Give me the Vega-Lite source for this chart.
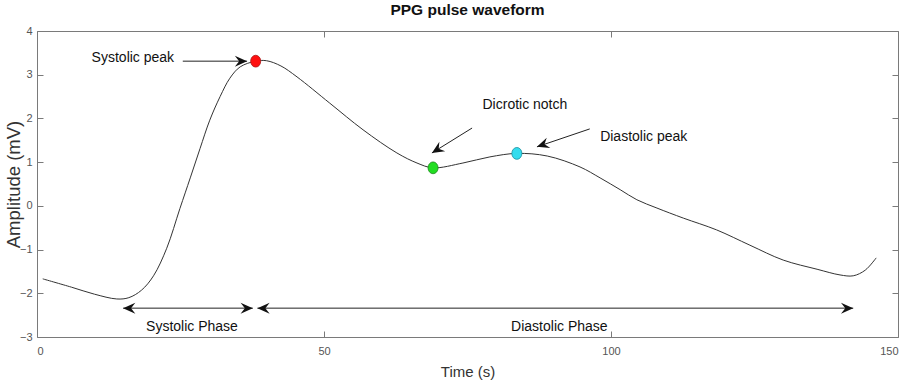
{
  "$schema": "https://vega.github.io/schema/vega-lite/v6.json",
  "width": 861,
  "height": 306,
  "autosize": {"type": "none"},
  "padding": {"left": 37, "top": 31, "right": 12, "bottom": 45},
  "background": "white",
  "config": {
    "view": {"stroke": "#7a7a7a", "strokeWidth": 1},
    "font": "Liberation Sans",
    "axis": {
      "domain": false,
      "grid": false,
      "tickColor": "#7a7a7a",
      "tickSize": -6,
      "labelColor": "#555555",
      "labelFontSize": 11,
      "labelFont": "Liberation Sans",
      "titleFont": "Liberation Sans",
      "titleFontWeight": "normal",
      "titleFontSize": 15,
      "titleColor": "#333333"
    }
  },
  "title": {"text": "PPG pulse waveform", "fontSize": 15.5, "fontWeight": "bold", "font": "Liberation Sans", "color": "#111111", "offset": 7, "anchor": "middle"},
  "datasets": {
    "wave": [
      {"t": 1.0, "a": -1.67}, {"t": 6.0, "a": -1.86}, {"t": 10.0, "a": -2.02}, {"t": 13.9, "a": -2.13},
      {"t": 16.0, "a": -2.1}, {"t": 18.2, "a": -1.93}, {"t": 20.3, "a": -1.6}, {"t": 22.6, "a": -0.97},
      {"t": 24.9, "a": -0.06}, {"t": 26.7, "a": 0.64}, {"t": 28.4, "a": 1.31}, {"t": 30.1, "a": 1.96},
      {"t": 31.9, "a": 2.5}, {"t": 33.6, "a": 2.92}, {"t": 35.4, "a": 3.18}, {"t": 38.1, "a": 3.31},
      {"t": 40.0, "a": 3.32}, {"t": 42.5, "a": 3.2}, {"t": 45.3, "a": 2.95}, {"t": 51.0, "a": 2.35},
      {"t": 56.8, "a": 1.74}, {"t": 62.7, "a": 1.21}, {"t": 66.2, "a": 0.98}, {"t": 69.0, "a": 0.87},
      {"t": 74.2, "a": 0.98}, {"t": 78.9, "a": 1.12}, {"t": 83.6, "a": 1.2}, {"t": 88.9, "a": 1.14},
      {"t": 94.6, "a": 0.89}, {"t": 98.1, "a": 0.64}, {"t": 101.6, "a": 0.37}, {"t": 104.5, "a": 0.14},
      {"t": 108.0, "a": -0.05}, {"t": 112.6, "a": -0.28}, {"t": 118.4, "a": -0.55}, {"t": 124.2, "a": -0.9},
      {"t": 130.0, "a": -1.24}, {"t": 135.9, "a": -1.45}, {"t": 139.9, "a": -1.58}, {"t": 142.2, "a": -1.6},
      {"t": 144.3, "a": -1.47}, {"t": 146.2, "a": -1.19}
    ],
    "points": [
      {"t": 38.1, "a": 3.31, "name": "Systolic peak"},
      {"t": 69.0, "a": 0.87, "name": "Dicrotic notch"},
      {"t": 83.6, "a": 1.2, "name": "Diastolic peak"}
    ],
    "arrows": [
      {"id": "sys", "t1": 25.4, "a1": 3.31, "t2": 36.6, "a2": 3.31},
      {"id": "dic", "t1": 75.8, "a1": 1.78, "t2": 68.8, "a2": 1.21},
      {"id": "dia", "t1": 96.3, "a1": 1.76, "t2": 87.1, "a2": 1.35},
      {"id": "sysphase", "t1": 37.6, "a1": -2.34, "t2": 15.0, "a2": -2.34},
      {"id": "diaphase", "t1": 38.4, "a1": -2.34, "t2": 142.2, "a2": -2.34}
    ],
    "labels": [
      {"t": 16.7, "a": 3.38, "text": "Systolic peak"},
      {"t": 85.0, "a": 2.31, "text": "Dicrotic notch"},
      {"t": 105.7, "a": 1.57, "text": "Diastolic peak"},
      {"t": 27.0, "a": -2.77, "text": "Systolic Phase"},
      {"t": 91.0, "a": -2.77, "text": "Diastolic Phase"}
    ]
  },
  "layer": [
    {
      "layer": [
        {
          "data": {"name": "wave"},
          "mark": {"type": "line", "color": "#333333", "strokeWidth": 1, "interpolate": "catmull-rom"},
          "encoding": {
            "x": {"field": "t", "type": "quantitative", "scale": {"domain": [0, 150], "nice": false}, "axis": {"title": "Time (s)", "values": [0, 50, 100, 150], "labelPadding": 14, "titlePadding": 8}},
            "y": {"field": "a", "type": "quantitative", "scale": {"domain": [-3, 4], "nice": false}, "axis": {"title": "Amplitude (mV)", "titleFontSize": 18.5, "values": [-3, -2, -1, 0, 1, 2, 3, 4], "labelPadding": 11, "titlePadding": -4}}
          }
        },
        {
          "data": {"name": "arrows"},
          "mark": {"type": "rule", "color": "#222222", "strokeWidth": 1},
          "encoding": {
            "x": {"field": "t1", "type": "quantitative"},
            "y": {"field": "a1", "type": "quantitative"},
            "x2": {"field": "t2"},
            "y2": {"field": "a2"}
          }
        },
        {
          "data": {"name": "arrows"},
          "transform": [{"filter": "datum.id == 'sys' || datum.id == 'diaphase'"}],
          "mark": {"type": "point", "shape": "M0,0 L-1,-0.45 L-0.65,0 L-1,0.45 Z", "filled": true, "color": "#111111", "opacity": 1, "size": 600, "angle": 0},
          "encoding": {"x": {"field": "t2", "type": "quantitative"}, "y": {"field": "a2", "type": "quantitative"}}
        },
        {
          "data": {"name": "arrows"},
          "transform": [{"filter": "datum.id == 'sysphase'"}],
          "mark": {"type": "point", "shape": "M0,0 L-1,-0.45 L-0.65,0 L-1,0.45 Z", "filled": true, "color": "#111111", "opacity": 1, "size": 600, "angle": 180},
          "encoding": {"x": {"field": "t2", "type": "quantitative"}, "y": {"field": "a2", "type": "quantitative"}}
        },
        {
          "data": {"name": "arrows"},
          "transform": [{"filter": "datum.id == 'sysphase'"}],
          "mark": {"type": "point", "shape": "M0,0 L-1,-0.45 L-0.65,0 L-1,0.45 Z", "filled": true, "color": "#111111", "opacity": 1, "size": 600, "angle": 0},
          "encoding": {"x": {"field": "t1", "type": "quantitative"}, "y": {"field": "a1", "type": "quantitative"}}
        },
        {
          "data": {"name": "arrows"},
          "transform": [{"filter": "datum.id == 'diaphase'"}],
          "mark": {"type": "point", "shape": "M0,0 L-1,-0.45 L-0.65,0 L-1,0.45 Z", "filled": true, "color": "#111111", "opacity": 1, "size": 600, "angle": 180},
          "encoding": {"x": {"field": "t1", "type": "quantitative"}, "y": {"field": "a1", "type": "quantitative"}}
        },
        {
          "data": {"name": "arrows"},
          "transform": [{"filter": "datum.id == 'dic'"}],
          "mark": {"type": "point", "shape": "M0,0 L-1,-0.45 L-0.65,0 L-1,0.45 Z", "filled": true, "color": "#111111", "opacity": 1, "size": 600, "angle": 148},
          "encoding": {"x": {"field": "t2", "type": "quantitative"}, "y": {"field": "a2", "type": "quantitative"}}
        },
        {
          "data": {"name": "arrows"},
          "transform": [{"filter": "datum.id == 'dia'"}],
          "mark": {"type": "point", "shape": "M0,0 L-1,-0.45 L-0.65,0 L-1,0.45 Z", "filled": true, "color": "#111111", "opacity": 1, "size": 600, "angle": 161},
          "encoding": {"x": {"field": "t2", "type": "quantitative"}, "y": {"field": "a2", "type": "quantitative"}}
        },
        {
          "data": {"name": "points"},
          "mark": {"type": "point", "shape": "M-0.85,0 A0.85,1 0 1,0 0.85,0 A0.85,1 0 1,0 -0.85,0 Z", "filled": true, "opacity": 1, "size": 140, "strokeWidth": 0.8},
          "encoding": {
            "x": {"field": "t", "type": "quantitative"},
            "y": {"field": "a", "type": "quantitative"},
            "fill": {"field": "name", "type": "nominal", "legend": null, "scale": {"domain": ["Systolic peak", "Dicrotic notch", "Diastolic peak"], "range": ["#ff1010", "#22dd22", "#33dcee"]}},
            "stroke": {"field": "name", "type": "nominal", "legend": null, "scale": {"domain": ["Systolic peak", "Dicrotic notch", "Diastolic peak"], "range": ["#aa2020", "#208a20", "#2090a0"]}}
          }
        },
        {
          "data": {"name": "labels"},
          "mark": {"type": "text", "fontSize": 14, "font": "Liberation Sans", "color": "#111111", "align": "center", "baseline": "middle"},
          "encoding": {
            "x": {"field": "t", "type": "quantitative"},
            "y": {"field": "a", "type": "quantitative"},
            "text": {"field": "text"}
          }
        }
      ]
    },
    {
      "data": {"name": "wave"},
      "mark": {"type": "line", "opacity": 0},
      "encoding": {
        "x": {"field": "t", "type": "quantitative", "axis": {"orient": "top", "title": null, "labels": false, "values": [0, 50, 100, 150]}},
        "y": {"field": "a", "type": "quantitative", "axis": {"orient": "right", "title": null, "labels": false, "values": [-3, -2, -1, 0, 1, 2, 3, 4]}}
      }
    }
  ],
  "resolve": {"axis": {"x": "independent", "y": "independent"}}
}
